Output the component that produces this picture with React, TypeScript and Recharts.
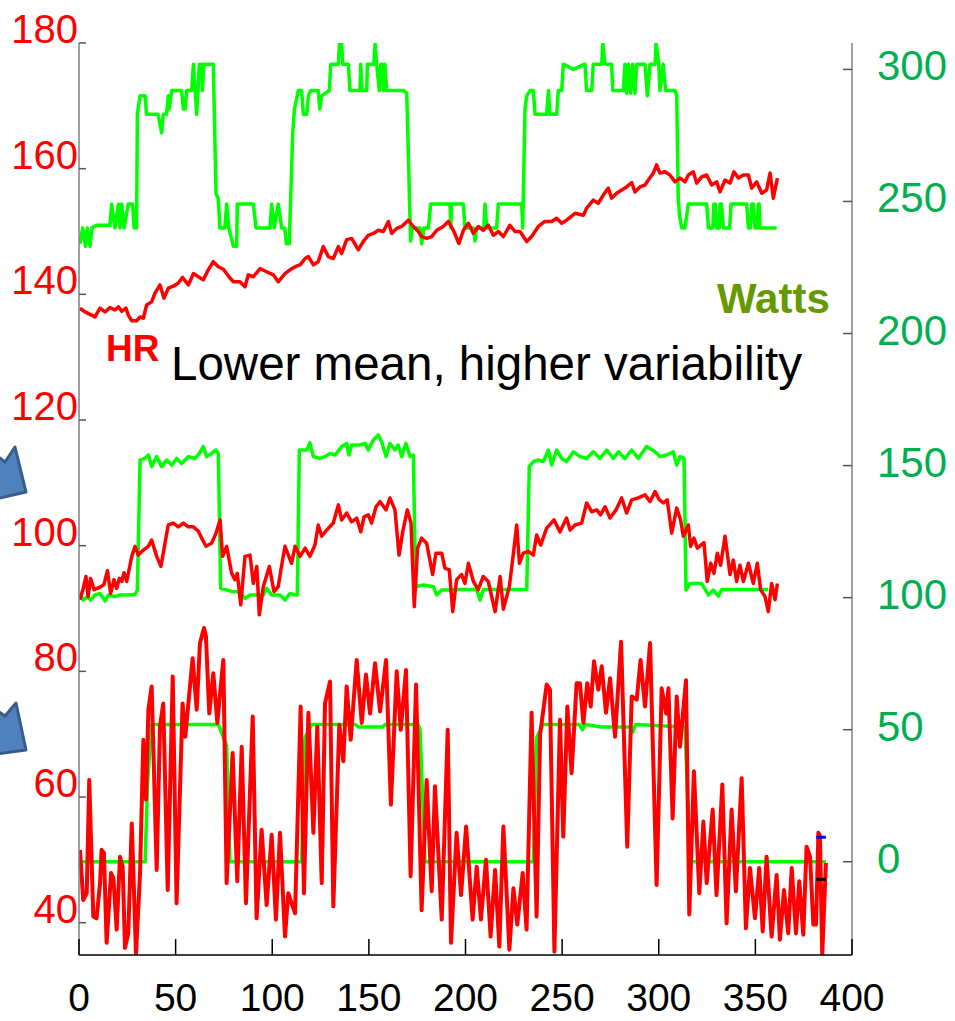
import React from 'react';
import {Line, LineChart, ReferenceLine, XAxis, YAxis} from 'recharts';

// [seconds, value] samples for each trace
const topWatts = [
    [0.5, 234], [1.9, 240], [3.3, 233], [4.3, 240], [5.7, 233], [6.7, 240], [9.1, 241], [16, 241], [16.9, 249],
    [18.6, 240], [20.4, 249], [21.2, 240], [22.1, 249], [23.3, 240], [25.5, 249], [27.8, 249], [28.5, 240], [29.8, 240],
    [30.2, 283], [31.6, 290], [34.3, 290], [34.9, 283], [40.9, 283], [42.8, 276], [43.6, 283], [45.3, 283], [46.2, 290],
    [46.7, 285], [48, 292], [53.1, 292], [54, 285], [55, 285], [55.7, 292], [58.3, 292], [59.2, 302], [60.9, 283],
    [62.3, 302], [63.5, 302], [63.8, 292], [64.6, 302], [69.5, 302], [70.9, 253], [72.1, 251], [72.9, 240], [75.5, 240],
    [76.4, 249], [77.5, 240], [79.9, 233], [81.6, 233], [81.9, 249], [90.2, 249], [91.6, 240], [98.8, 240], [99.7, 249],
    [101, 240], [103.1, 249], [104.9, 240], [106.5, 240], [107.3, 234], [108.8, 234], [110.6, 276], [111.5, 285],
    [113.5, 292], [115.2, 292], [116.1, 283], [117.8, 283], [118.7, 290], [120, 292], [123.8, 292], [124.6, 285],
    [125.6, 290], [129.5, 292], [130.3, 302], [134.2, 302], [134.8, 310], [135.9, 310], [136.5, 302], [139.4, 302],
    [140.2, 292], [145.4, 292], [145.8, 302], [146.5, 292], [148.9, 292], [149.2, 302], [152.6, 302], [153.2, 310],
    [154, 302], [155.4, 292], [156.2, 302], [157, 302], [157.5, 292], [158.3, 302], [159.2, 292], [168, 292], [169.6, 291],
    [171.6, 235], [172.5, 240], [176.5, 240], [177.3, 234], [178.5, 240], [180.8, 240], [182, 249], [192, 249],
    [192.4, 240], [192.8, 249], [198.9, 249], [199.7, 240], [204.1, 240], [204.9, 235], [205.8, 240], [209.5, 240],
    [210.1, 249], [211, 240], [216.1, 240], [217, 249], [229.1, 249], [229.6, 240], [230.8, 285], [231.7, 290],
    [233.4, 292], [235.1, 292], [236, 283], [242, 283], [242.9, 292], [243.7, 283], [247.2, 283], [248, 292], [249.8, 292],
    [250.6, 302], [255.8, 300], [261.8, 302], [262.7, 292], [265.3, 292], [266.1, 302], [270.5, 302], [271, 310],
    [272.2, 302], [275.6, 302], [276.2, 292], [281.7, 292], [282.5, 302], [283.4, 291], [284.3, 302], [285.5, 291],
    [286.5, 302], [287.7, 291], [288.6, 302], [292.9, 302], [294.1, 290], [295.5, 302], [298.1, 302], [298.6, 310],
    [300, 302], [300.6, 292], [302.3, 302], [303.5, 292], [308.4, 292], [309.3, 290], [310.1, 251], [310.7, 245],
    [311.9, 240], [313.6, 240], [315.3, 249], [324.8, 249], [325.7, 240], [328, 240], [328.5, 249], [329.3, 249],
    [330, 240], [331.3, 240], [331.7, 249], [332.5, 249], [333.4, 240], [336.7, 240], [337.4, 249], [345.5, 249],
    [346.4, 240], [347.4, 240], [348.1, 249], [349, 249], [349.8, 240], [351, 240], [351.5, 249], [352, 249],
    [352.4, 240], [361, 240],
];

const topHr = [
    [0.5, 137.8], [3.1, 137.2], [6.5, 136.7], [8.3, 136.4], [10.9, 137.8], [13.5, 137.2], [16, 137.9], [18.6, 137.5],
    [20.4, 138], [22.1, 137.3], [24.3, 137.8], [25.5, 136.7], [27.3, 135.8], [29.8, 135.8], [31.6, 136.4], [33.3, 136.2],
    [35, 138.3], [37.6, 138.8], [39.3, 140.2], [41.9, 141.5], [44, 139.4], [46.2, 141], [48.8, 141.3], [51.4, 141.8],
    [53.6, 142.7], [56.6, 141.5], [59.2, 143.3], [61.8, 142.8], [64.3, 142.3], [66.9, 143.9], [69.5, 145.2], [72.1, 144.4],
    [74.7, 144], [78.1, 142.6], [79.9, 142], [83.3, 142], [85.9, 141.2], [87.6, 143.1], [90.2, 142.8], [93.7, 144.1],
    [97.1, 143.6], [100.6, 143.1], [103.1, 142], [106.6, 143.3], [109.2, 143.9], [111.8, 144.4], [114.4, 144.7],
    [117, 145.7], [118.7, 146], [121.3, 144.7], [123.8, 145.2], [126.4, 147.6], [129, 146], [131.6, 145.7], [134.2, 147.6],
    [135.9, 146.5], [138.5, 148.7], [141.1, 148.9], [144.5, 147.1], [147.1, 148.4], [149.7, 149.4], [152.3, 149.7],
    [154.9, 150.2], [157.5, 150], [160.1, 151.6], [161.8, 149.7], [164.4, 150.5], [167, 150.8], [170.4, 151.8],
    [173, 150.8], [175.6, 150], [177.3, 149.2], [179.9, 148.9], [182.5, 149.2], [185.1, 150.2], [188.5, 150.8],
    [191.1, 151.6], [193.7, 150.2], [196.6, 148.1], [198.9, 150.2], [201.5, 151.3], [204.1, 149.7], [206.6, 150.8],
    [209.2, 150.2], [211.8, 151], [214.4, 149.4], [217, 150], [219.6, 149.2], [223, 151], [225.6, 150], [228.2, 150],
    [231.7, 148.4], [234.2, 149.2], [237.7, 150.8], [241.1, 151.6], [244.6, 151.6], [247.2, 152.1], [249.8, 151.3],
    [252.3, 151.8], [256.7, 152.9], [261, 152.6], [262.7, 153.7], [266.1, 155], [268.7, 154.5], [271.3, 155.8],
    [273.9, 156.9], [275.6, 155.3], [278.2, 156.1], [280.8, 156.6], [283.4, 157.1], [286, 157.8], [287.7, 156.3],
    [290.3, 157.1], [292.9, 157.4], [294.6, 158.2], [297.2, 159.3], [298.9, 160.6], [300.6, 159.3], [303.2, 159.5],
    [305.8, 159], [308.4, 157.9], [311, 158.5], [313.6, 157.9], [315.3, 159], [317.9, 159.5], [319.6, 157.7],
    [322.2, 158.7], [324.8, 159], [327.4, 157.4], [330, 157.9], [331.7, 156.3], [334.3, 158.2], [336.9, 157.7],
    [338.9, 159.5], [341.2, 158.5], [343.8, 159], [346.4, 159], [348.1, 156.9], [350.7, 157.9], [353.3, 156.1],
    [355.8, 156.6], [357.6, 159.3], [359.3, 155.3], [361.4, 158.5],
];

const midWatts = [
    [0.5, 101.6], [2.2, 99.1], [4.3, 100.4], [6, 99.1], [8.3, 101], [10.9, 101.6], [13.5, 98.7], [15.2, 101],
    [18.6, 100.4], [21.2, 101], [24.7, 101], [29, 101.2], [30.2, 102.9], [31.6, 152.1], [34.1, 152.7], [35.9, 154],
    [37.6, 149.6], [40.2, 153.4], [42.8, 149.6], [45.4, 152.1], [48, 150.2], [50.5, 152.7], [53.1, 150.8], [56.6, 153.4],
    [60, 152.7], [62.3, 154.6], [64.3, 157.2], [66.1, 153.4], [68.6, 154.6], [70.9, 155.9], [72.1, 154.6], [73.3, 103.5],
    [76.4, 102.9], [79.9, 102.2], [83.3, 102.2], [85.9, 99.7], [88.5, 101], [95.4, 101], [97.1, 103.5], [99.7, 101],
    [104, 101], [106.6, 99.1], [109.2, 101.6], [111.8, 101], [113, 101], [114, 155.9], [117.8, 155.9], [119.5, 158.7],
    [121.3, 153.4], [124.7, 152.7], [127.3, 153.4], [129.9, 154.6], [132.5, 154], [135.9, 157.2], [138.5, 158.4],
    [139.7, 154], [141.1, 157.8], [145.4, 157.8], [148, 158.4], [149.7, 155.9], [152.3, 159.7], [154.9, 161.6],
    [156.6, 159], [158.9, 153.4], [160.9, 158.4], [163.5, 155.9], [165.2, 157.8], [167, 153.4], [169.2, 158.4],
    [171.3, 153.4], [173, 154], [174.2, 104.1], [178.2, 104.8], [183.4, 104.1], [185.1, 101], [187.7, 102.9],
    [192, 102.9], [197.2, 103.1], [205.8, 103.1], [207.5, 99.1], [209.2, 103.1], [231.7, 103.1], [233, 149.6],
    [235.1, 151.5], [237.7, 152.1], [240.3, 151.5], [242.9, 155.9], [244.6, 150.2], [247.2, 155.9], [249.8, 152.7],
    [252.3, 151.5], [255.8, 155.2], [259.3, 153.4], [262.7, 152.7], [266.1, 155.2], [269.6, 152.7], [273.1, 155.9],
    [276.5, 152.7], [279.1, 155.2], [282.5, 152.7], [286, 155.9], [289.4, 152.7], [293.7, 157.2], [298.1, 155.2],
    [300.6, 153.4], [304.1, 154], [307.5, 155.2], [309.3, 150.2], [311, 153.4], [313.1, 152.7], [314.1, 102.9],
    [316.2, 105.4], [322.2, 105.4], [325.7, 101], [328.2, 102.9], [330.8, 100.6], [332.6, 103.1], [356.7, 103.1],
];

const midHr = [
    [0.5, 91.4], [2.2, 93.2], [3.6, 95.1], [4.7, 91.9], [6, 94.8], [7.8, 93], [10.9, 93.4], [12.9, 93.8], [14.7, 96],
    [16.4, 92.4], [18.1, 94.6], [19.5, 93.2], [20.9, 94.8], [22.1, 94.3], [23.3, 95.7], [24.7, 94.3], [27.3, 98.3],
    [29, 99.9], [30.7, 98.5], [33.3, 99.3], [35.9, 99.9], [37.6, 100.9], [40.2, 98.3], [42.4, 96.7], [44.5, 100.4],
    [46.2, 103.3], [48.8, 103.6], [51.4, 103], [54, 103.6], [56.6, 103], [59.2, 103], [61.8, 102.3], [63.5, 101.2],
    [65.7, 99.9], [68.6, 100.4], [70.9, 102], [73, 104.1], [74.3, 98.3], [76.4, 99.9], [79, 95.6], [80.7, 94.6],
    [81.9, 95.6], [83.7, 90.6], [85.9, 98.3], [88.5, 98.5], [90.2, 94], [92, 96.7], [93.3, 89], [95.4, 93.5],
    [98.5, 96.7], [100.9, 92.7], [103.1, 93.5], [104.5, 96.2], [106.6, 99.9], [110, 97.2], [111.8, 99.9], [114.4, 98.3],
    [117, 99.6], [119.5, 98.3], [122.1, 100.1], [123.8, 103.3], [125.6, 101.5], [128.2, 102.5], [131.6, 103.6],
    [134.2, 106.5], [135.9, 104.1], [138.5, 105.2], [141.1, 103.8], [143.7, 104.4], [145.8, 102.2], [147.5, 104.6],
    [149.7, 104.9], [151.4, 103.6], [153.7, 106.2], [155.8, 107], [158.9, 105.7], [160.9, 107.6], [163.5, 105.7],
    [165.6, 98.5], [167.5, 102.2], [169.9, 105.7], [171.8, 103.6], [173.5, 90.3], [175.2, 99.6], [177.3, 101.2],
    [179.9, 100.4], [183, 95.4], [184.7, 98.8], [187.7, 98.8], [189.4, 96.4], [191.6, 96.2], [193.4, 89.5],
    [195.4, 94.6], [198, 95.4], [199.7, 94], [201.5, 97.2], [204.1, 94.3], [206.6, 93], [209.2, 95.1], [211.8, 94.3],
    [215.3, 89.5], [217.9, 95.1], [219.6, 89.9], [222.7, 93.5], [224.8, 98.8], [226.5, 103.3], [227.9, 97.2],
    [229.9, 98.8], [232.5, 99.1], [235.1, 98.5], [236.8, 101.7], [238.9, 100.1], [242, 102.8], [245.8, 104.1],
    [248.9, 102.2], [252.3, 104.4], [254.1, 102.5], [256.7, 103.3], [260.1, 103.6], [262.7, 106.8], [265.3, 105.4],
    [267.9, 105.7], [269.9, 104.9], [272.2, 106.2], [274.8, 104.4], [277.9, 105.7], [280.8, 107.6], [283.4, 105.2],
    [286, 107.3], [289.4, 107.6], [292.9, 108.1], [295.5, 107], [298.1, 108.6], [300.3, 107.3], [302.4, 106.8],
    [304.4, 107.3], [306.7, 102], [309.3, 106], [311.3, 104.1], [312.7, 101.5], [315.3, 103.3], [316.5, 99.9],
    [318.2, 101.2], [320, 99.6], [323.4, 100.5], [325.1, 94.3], [326.9, 97.2], [328.6, 95.6], [330.3, 98.8],
    [332, 96.9], [334.3, 101.5], [336.9, 95.4], [338.6, 97.7], [340.3, 94.3], [342, 96.9], [343.8, 94.3], [346.4, 97.2],
    [348.9, 94], [351, 97.2], [352.7, 93], [355, 91.9], [356.7, 89.5], [358.4, 94], [360.2, 91.4], [361.4, 94],
];

const lowWatts = [
    [0.5, 0], [34.2, 0], [35.5, 30], [37.6, 52], [72.1, 52], [76.4, 44], [78.1, 0], [115.2, 0], [116.9, 47],
    [120.4, 52], [143, 52], [144.5, 51], [157, 51], [158.5, 52], [175.5, 52], [176.5, 50], [179, 0], [235.1, 0],
    [236.8, 47], [240.2, 52], [259, 52], [260.5, 50], [262, 52], [270, 51], [285, 51], [286.5, 49], [288, 52],
    [313.6, 51], [316.2, 0], [386.5, 0],
];

const lowHr = [
    [0.5, 51.6], [2.2, 43.6], [4, 44.7], [5.3, 62.7], [7.4, 41], [9.1, 40.7], [10.9, 46.3], [11.7, 51.6], [12.9, 51.1],
    [14.3, 36.8], [16.6, 47.9], [17.8, 47.1], [19.5, 38.9], [21.2, 50.5], [22.6, 48.9], [23.8, 36], [25.5, 38.3],
    [27.3, 55.8], [29.5, 35], [31.6, 47.9], [33.3, 69.1], [34.7, 59.6], [35.9, 73.9], [37.6, 77.6], [40.2, 48.4],
    [41.9, 71.2], [43.6, 74.9], [45.9, 45.2], [48.5, 79.2], [50.5, 43.1], [53.6, 74.9], [55, 69.6], [56.6, 74.9],
    [58.8, 82.1], [60.9, 73.9], [62.6, 84.5], [64.7, 86.9], [65.7, 85.5], [67.4, 73.3], [69.5, 79.7], [71.6, 71.8],
    [73, 76.5], [74.7, 81.8], [76.4, 46.3], [79.5, 67], [81.9, 46.6], [84.2, 68], [86.4, 43.1], [89.9, 72.8],
    [91.9, 40.7], [94.5, 54.8], [97.1, 42.8], [99.7, 54], [101.9, 40.5], [104, 54.3], [106.6, 37.8], [108.3, 44.7],
    [111.8, 41.5], [114.7, 74.4], [116.4, 44.7], [118.7, 73.4], [121.3, 54.3], [123.3, 71.2], [125.6, 46.3],
    [127.3, 74.9], [129.9, 78.4], [131.6, 42.6], [134.7, 71.5], [136.8, 65.7], [138.5, 77.6], [140.6, 69.1],
    [143.7, 81.8], [146.3, 71.8], [148.5, 79.5], [150.6, 73.3], [153.2, 81.3], [155.8, 73.6], [158.9, 81.8],
    [161.4, 58.8], [164.4, 80], [166.5, 70.7], [169.2, 80.2], [171.6, 47.4], [174.4, 77.9], [177.3, 42], [179.9, 62.7],
    [182.5, 45], [184.2, 61.7], [187.7, 40.5], [190.8, 70.7], [192.5, 36.8], [195.4, 54.3], [197.7, 44.4],
    [200.3, 55.3], [203.7, 40.5], [205.8, 48.9], [208, 40.5], [210.6, 50], [213, 37.8], [215.3, 48.4], [217.5, 36.2],
    [219.6, 55.3], [222.7, 35.7], [224.8, 45.5], [226.8, 39.7], [229.6, 47.9], [231.6, 38.9], [234.2, 73.4], [236.8, 41],
    [238.6, 69.9], [242, 77.9], [243.7, 77.1], [246, 35.4], [248.9, 72.3], [250.6, 53.7], [252.7, 74.4], [254.9, 63.8],
    [257.5, 78.1], [259.2, 78.1], [261, 71.8], [263, 78.1], [264.8, 74.4], [266.5, 81.6], [268.7, 77.1], [270.5, 80.8],
    [272.7, 73.4], [274.8, 78.9], [277.4, 69.6], [280.5, 84.7], [283.7, 52.1], [286, 76], [288.6, 75.5], [290.6, 81.8],
    [292.9, 74.4], [295.5, 84.5], [298.9, 46], [301.5, 77.3], [303.8, 73.3], [305, 77.3], [307.2, 56.6], [309.3, 76],
    [311, 68], [314.1, 78.6], [315.8, 41.3], [318.2, 64.1], [321, 44.7], [323.1, 56.1], [324.8, 46.3], [327.9, 58],
    [329.9, 44.4], [332.9, 62], [335.1, 39.9], [337.7, 58], [339.9, 45], [342.9, 63], [345.1, 39.1], [347.2, 48.7],
    [349.8, 40.7], [352, 48.7], [353.8, 38.6], [355.8, 50.5], [358.4, 37.8], [361, 47.6], [362.7, 37.3], [364.8, 45.2],
    [367, 38.3], [368.8, 48.7], [371, 38.3], [372.7, 46.6], [374.8, 38.1], [376.5, 52.1], [378.3, 50.5], [380, 39.7],
    [381.4, 39.7], [382.6, 54.3], [383.4, 53.8], [384.6, 35], [386.5, 49.5],
];

const timeTicks = [0, 50, 100, 150, 200, 250, 300, 350, 400];
const hrTicks = [40, 60, 80, 100, 120, 140, 160, 180];
const wattTicks = [0, 50, 100, 150, 200, 250, 300];

// end-of-trace markers on the low-power HR trace
const markerSpan = [381.6, 386.5];
const markerHigh = 53.6;
const markerLow = 46.9;

const FONT = '"Liberation Sans", Arial, sans-serif';
const GREEN = '#00FF00';
const RED = '#FF0000';

const rows = (pts: number[][]) => pts.map(([t, v]) => ({t, v}));

const TimeTick = ({x, y, payload}: any) => (
    <g>
        <line x1={x} x2={x} y1={y} y2={y - 16} stroke="#000" strokeWidth={1.5}/>
        <text x={x} y={y + 56} textAnchor="middle" fill="#000" fontSize={39} fontFamily={FONT}>{payload.value}</text>
    </g>
);

const HrTick = ({x, y, payload}: any) => (
    <g>
        <line x1={x} x2={x + 7} y1={y} y2={y} stroke="#555" strokeWidth={1.5}/>
        <text x={x - 1} y={y} textAnchor="end" fill={RED} fontSize={40} fontFamily={FONT}>{payload.value}</text>
    </g>
);

const WattTick = ({x, y, payload}: any) => (
    <g>
        <line x1={x - 9} x2={x} y1={y} y2={y} stroke="#555" strokeWidth={1.5}/>
        <text x={x + 25} y={y + 11} textAnchor="start" fill="#00B050" fontSize={42} fontFamily={FONT}>{payload.value}</text>
    </g>
);

const series = [
    {id: 'topW', pts: topWatts, axis: 'w', color: GREEN, width: 3.5},
    {id: 'midW', pts: midWatts, axis: 'w', color: GREEN, width: 3.5},
    {id: 'lowW', pts: lowWatts, axis: 'w', color: GREEN, width: 3.5},
    {id: 'topHr', pts: topHr, axis: 'hr', color: RED, width: 3.5},
    {id: 'midHr', pts: midHr, axis: 'hr', color: RED, width: 3.5},
    {id: 'lowHr', pts: lowHr, axis: 'hr', color: RED, width: 4},
];

const HrWattsChart = () => {
    return (
        <div style={{position: 'absolute', left: 0, top: 0, width: 955, height: 1021, background: '#fff'}}>
            <LineChart width={955} height={1021} margin={{top: 43, right: 0, bottom: 0, left: 0}}>
                <XAxis type="number" dataKey="t" domain={[0, 400]} ticks={timeTicks} interval={0} allowDataOverflow
                       height={66} tickSize={0} tickMargin={0} tickLine={false} tick={<TimeTick/>}
                       axisLine={{stroke: '#000', strokeWidth: 1.5}}/>
                <YAxis yAxisId="hr" orientation="left" type="number" domain={[34.86, 180]} ticks={hrTicks} interval={0}
                       allowDataOverflow width={79} tickSize={0} tickMargin={0} tickLine={false} tick={<HrTick/>}
                       axisLine={{stroke: '#7F7F7F', strokeWidth: 1.5}}/>
                <YAxis yAxisId="w" orientation="right" type="number" domain={[-35.3, 310]} ticks={wattTicks} interval={0}
                       allowDataOverflow width={103} tickSize={0} tickMargin={0} tickLine={false} tick={<WattTick/>}
                       axisLine={{stroke: '#7F7F7F', strokeWidth: 1.5}}/>
                {series.map(s => (
                    <Line key={s.id} data={rows(s.pts)} dataKey="v" yAxisId={s.axis} type="linear" stroke={s.color}
                          strokeWidth={s.width} strokeLinejoin="round" dot={false} activeDot={false}
                          isAnimationActive={false}/>
                ))}
                <ReferenceLine yAxisId="hr" segment={[{x: markerSpan[0], y: markerHigh}, {x: markerSpan[1], y: markerHigh}]}
                               stroke="#0000FF" strokeWidth={3}/>
                <ReferenceLine yAxisId="hr" segment={[{x: markerSpan[0], y: markerLow}, {x: markerSpan[1], y: markerLow}]}
                               stroke="#000" strokeWidth={3}/>
            </LineChart>
            <svg width={955} height={1021} style={{position: 'absolute', left: 0, top: 0, pointerEvents: 'none'}}>
                <polygon points="-4,455 5,462 15,447 26,492 -4,499" fill="#4F81BD" stroke="#385D8A" strokeWidth={3}
                         strokeLinejoin="round"/>
                <polygon points="-4,710 5,716 16,703 26,750 -4,754" fill="#4F81BD" stroke="#385D8A" strokeWidth={3}
                         strokeLinejoin="round"/>
                <text x={106} y={361} fill={RED} fontWeight="bold" fontSize={37} fontFamily={FONT}>HR</text>
                <text x={717} y={313} fill="#669900" fontWeight="bold" fontSize={42} fontFamily={FONT}>Watts</text>
                <text x={171} y={380} fill="#000" fontSize={47.5} fontFamily={FONT}>Lower mean, higher variability</text>
            </svg>
        </div>
    );
};

export default HrWattsChart;
